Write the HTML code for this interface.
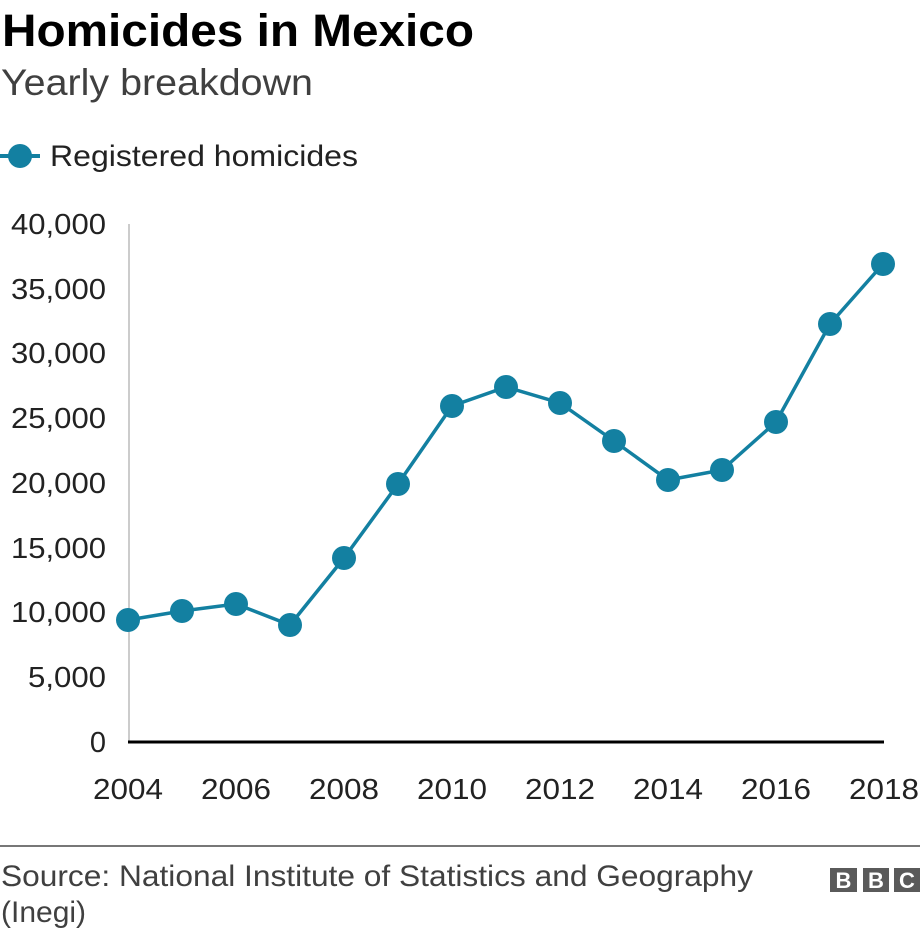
<!DOCTYPE html>
<html><head><meta charset="utf-8"><style>
html,body{margin:0;padding:0;background:#fff;}
svg{display:block;font-family:"Liberation Sans",Arial,sans-serif;}
</style></head><body>
<svg width="920" height="932" viewBox="0 0 920 932" xmlns="http://www.w3.org/2000/svg">
<text x="2" y="46" font-size="45" font-weight="bold" fill="#000" textLength="472" lengthAdjust="spacingAndGlyphs">Homicides in Mexico</text>
<text x="1" y="95" font-size="37" fill="#404040" textLength="312" lengthAdjust="spacingAndGlyphs">Yearly breakdown</text>
<line x1="0" y1="156" x2="40" y2="156" stroke="#1380a1" stroke-width="4"/>
<circle cx="20" cy="156" r="12" fill="#1380a1"/>
<text x="50" y="166" font-size="30" fill="#222" textLength="308" lengthAdjust="spacingAndGlyphs">Registered homicides</text>
<line x1="129" y1="224" x2="129" y2="742" stroke="#ccc" stroke-width="2"/>
<g font-size="29" fill="#222" text-anchor="end">
<text x="106" y="234" textLength="95" lengthAdjust="spacingAndGlyphs">40,000</text>
<text x="106" y="299" textLength="95" lengthAdjust="spacingAndGlyphs">35,000</text>
<text x="106" y="363" textLength="95" lengthAdjust="spacingAndGlyphs">30,000</text>
<text x="106" y="428" textLength="95" lengthAdjust="spacingAndGlyphs">25,000</text>
<text x="106" y="493" textLength="95" lengthAdjust="spacingAndGlyphs">20,000</text>
<text x="106" y="558" textLength="95" lengthAdjust="spacingAndGlyphs">15,000</text>
<text x="106" y="622" textLength="95" lengthAdjust="spacingAndGlyphs">10,000</text>
<text x="106" y="687" textLength="78" lengthAdjust="spacingAndGlyphs">5,000</text>
<text x="106" y="752">0</text>
</g>
<line x1="128" y1="742" x2="884" y2="742" stroke="#000" stroke-width="3"/>
<g font-size="29" fill="#222" text-anchor="middle">
<text x="128" y="799" textLength="70" lengthAdjust="spacingAndGlyphs">2004</text>
<text x="236" y="799" textLength="70" lengthAdjust="spacingAndGlyphs">2006</text>
<text x="344" y="799" textLength="70" lengthAdjust="spacingAndGlyphs">2008</text>
<text x="452" y="799" textLength="70" lengthAdjust="spacingAndGlyphs">2010</text>
<text x="560" y="799" textLength="70" lengthAdjust="spacingAndGlyphs">2012</text>
<text x="668" y="799" textLength="70" lengthAdjust="spacingAndGlyphs">2014</text>
<text x="776" y="799" textLength="70" lengthAdjust="spacingAndGlyphs">2016</text>
<text x="884" y="799" textLength="70" lengthAdjust="spacingAndGlyphs">2018</text>
</g>
<polyline fill="none" stroke="#1380a1" stroke-width="3.5" points="128,620 182,611 236,604 290,625 344,558 398,484 452,406 506,387 560,403 614,441 668,480 722,470 776,422 830,324 883,264"/>
<g fill="#1380a1">
<circle cx="128" cy="620" r="12"/><circle cx="182" cy="611" r="12"/><circle cx="236" cy="604" r="12"/><circle cx="290" cy="625" r="12"/><circle cx="344" cy="558" r="12"/><circle cx="398" cy="484" r="12"/><circle cx="452" cy="406" r="12"/><circle cx="506" cy="387" r="12"/><circle cx="560" cy="403" r="12"/><circle cx="614" cy="441" r="12"/><circle cx="668" cy="480" r="12"/><circle cx="722" cy="470" r="12"/><circle cx="776" cy="422" r="12"/><circle cx="830" cy="324" r="12"/><circle cx="883" cy="264" r="12"/>
</g>
<line x1="0" y1="846" x2="920" y2="846" stroke="#777" stroke-width="2"/>
<text x="1" y="886" font-size="30" fill="#404040" textLength="752" lengthAdjust="spacingAndGlyphs">Source: National Institute of Statistics and Geography</text>
<text x="1" y="922" font-size="30" fill="#404040">(Inegi)</text>
<g fill="#5a5a5a"><rect x="830" y="868" width="27" height="24"/><rect x="863" y="868" width="26" height="24"/><rect x="894" y="868" width="26" height="24"/></g>
<g fill="#fff" font-size="22" font-weight="bold" text-anchor="middle">
<text x="843.5" y="888">B</text><text x="876" y="888">B</text><text x="907" y="888">C</text>
</g>
</svg>
</body></html>
